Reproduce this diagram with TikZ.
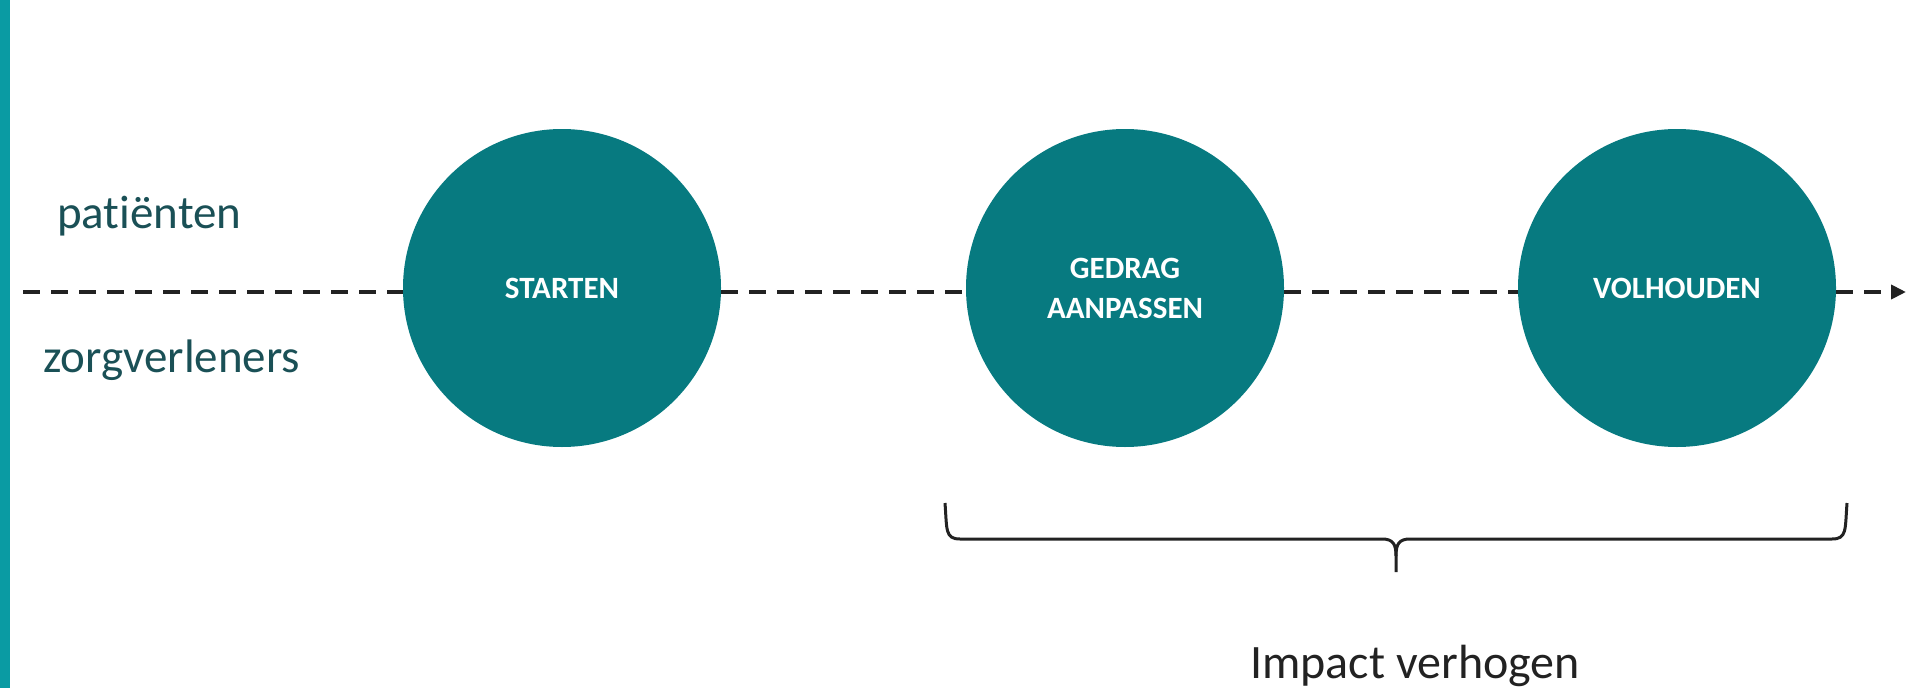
\documentclass[tikz,border=0pt]{standalone}
\usepackage{fontspec}
\setmainfont[Ligatures=NoCommon]{Carlito}
\usetikzlibrary{arrows.meta}
\definecolor{circteal}{HTML}{077A80}
\definecolor{barteal}{HTML}{0A9BA3}
\definecolor{labteal}{HTML}{1A5056}
\definecolor{darkline}{HTML}{222222}
\tikzset{
  stage/.style={circle, fill=circteal, minimum size=318pt, inner sep=0pt,
    text=white, align=center, font=\fontsize{31pt}{40pt}\selectfont\bfseries},
  sidelabel/.style={anchor=base west, inner sep=0pt, text=labteal,
    font=\fontsize{47pt}{56pt}\selectfont},
  flow/.style={draw=darkline, line width=4.5pt, dash pattern=on 17pt off 11pt},
  bracepath/.style={draw=darkline, line width=3pt, line join=round}
}
\begin{document}
\begin{tikzpicture}[x=1pt,y=-1pt]
\useasboundingbox (0,0) rectangle (1909,688);
\fill[barteal] (0,0) rectangle (10,688);
\node[sidelabel] (pat) at (57,228) {patiënten};
\node[sidelabel] (zorg) at (43,372) {zorgverleners};
\node[stage] (c1) at (562,288) {STARTEN};
\node[stage] (c2) at (1125,288) {GEDRAG\\AANPASSEN};
\node[stage] (c3) at (1677,288) {VOLHOUDEN};
\coordinate (start) at (23,292);
\coordinate (end) at (1906,292);
\draw[flow] (start) -- (start -| c1.west);
\draw[flow] (start -| c1.east) -- (start -| c2.west);
\draw[flow] (start -| c2.east) -- (start -| c3.west);
\draw[flow, -{Triangle[length=15pt,width=14pt]}] (start -| c3.east) -- (end);
\coordinate (bl) at (945,503);
\coordinate (br) at (1847,503);
\coordinate (bt) at (1396,572);
\draw[bracepath] (bl) .. controls (947,530) and (945,539) .. (960,539) -- (1382,539)
  .. controls (1393,539) and (1396,544) .. (1396,556) -- (bt);
\draw[bracepath] (br) .. controls (1845,530) and (1847,539) .. (1832,539) -- (1410,539)
  .. controls (1399,539) and (1396,544) .. (1396,556);
\node[anchor=base west, inner sep=0pt, text=darkline, font=\fontsize{48pt}{56pt}\selectfont] (imp) at (1250,678) {Impact verhogen};
\end{tikzpicture}
\end{document}
